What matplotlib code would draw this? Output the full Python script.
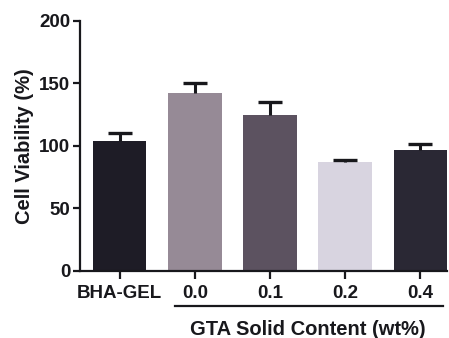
import matplotlib.pyplot as plt
from matplotlib.transforms import blended_transform_factory

# Cell viability per group (mean and upper SD)
groups = ["BHA-GEL", "0.0", "0.1", "0.2", "0.4"]
viability = [104, 142, 125, 87, 97]
viability_sd = [6.5, 8.5, 10.5, 2, 4.5]
bar_colors = ["#1e1c26", "#968a96", "#5c5260", "#d8d4e0", "#2a2834"]
y_ticks = [0, 50, 100, 150, 200]

plt.rcParams["font.family"] = ["Liberation Sans", "DejaVu Sans"]
plt.rcParams["font.weight"] = "bold"
ink = "#18181c"

fig = plt.figure(figsize=(4.49, 3.38), dpi=100)
ax = fig.add_axes([0.178, 0.199, 0.818, 0.739])

x = list(range(len(groups)))
ax.bar(x, viability, width=0.71, color=bar_colors, zorder=2)
_, caps, _ = ax.errorbar(x, viability, yerr=[[0] * len(x), viability_sd],
                         fmt="none", ecolor=ink, elinewidth=2.2, capsize=8.5,
                         capthick=2.4, zorder=3)
# only the upper half of each error bar is shown
caps[0].set_visible(False)

ax.set_xlim(-0.53, 4.36)
ax.set_ylim(0, 200)
ax.set_yticks(y_ticks)
ax.set_xticks(x)
ax.set_xticklabels(groups)

for side in ["top", "right"]:
    ax.spines[side].set_visible(False)
for side in ["left", "bottom"]:
    ax.spines[side].set_linewidth(1.6)
    ax.spines[side].set_color(ink)

ax.tick_params(axis="both", direction="out", width=1.6, length=5,
               colors=ink, labelsize=13.5, pad=2)
ax.tick_params(axis="x", length=6, pad=4)
for lbl in ax.get_xticklabels() + ax.get_yticklabels():
    lbl.set_fontweight("bold")

ax.set_ylabel("Cell Viability (%)", fontsize=14.5, fontweight="bold",
              color=ink, labelpad=4)

# bracket under the GTA groups with its caption
trans = blended_transform_factory(ax.transData, ax.transAxes)
ax.plot([1 - 0.27, 4 + 0.3], [-0.141, -0.141], transform=trans,
        color=ink, lw=1.6, clip_on=False)
ax.text((1 + 4) / 2, -0.235, "GTA Solid Content (wt%)", transform=trans,
        ha="center", va="center", fontsize=14.5, fontweight="bold", color=ink)

fig.savefig("out.png", dpi=100, facecolor="white")
